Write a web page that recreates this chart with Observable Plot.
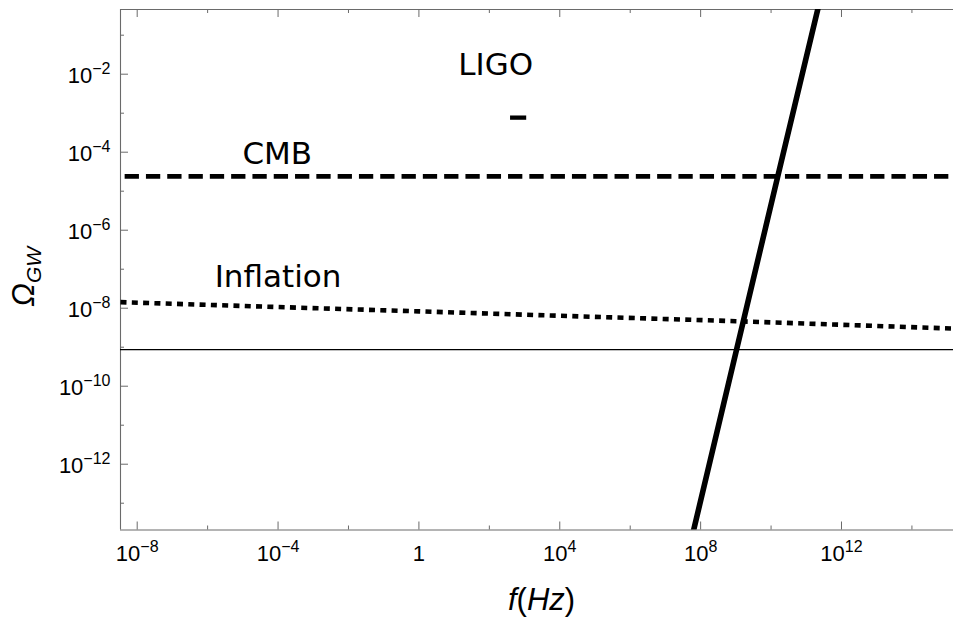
<!DOCTYPE html>
<html><head><meta charset="utf-8">
<script src="https://cdn.jsdelivr.net/npm/d3@7"></script>
<script src="https://cdn.jsdelivr.net/npm/@observablehq/plot@0.6"></script>
<style>body{margin:0;background:#fff}</style>
</head><body><div id="chart"></div>
<script>
// ---- data ----
const xMajorTicks = [1e-8, 1e-4, 1, 1e4, 1e8, 1e12];
const xTickLabels = ["10^−8", "10^−4", "1", "10^4", "10^8", "10^12"];
const xMinorTicks = [1e-6, 1e-2, 1e2, 1e6, 1e10, 1e14];
const yMajorTicks = [1e-2, 1e-4, 1e-6, 1e-8, 1e-10, 1e-12];
const yTickLabels = ["10^−2", "10^−4", "10^−6", "10^−8", "10^−10", "10^−12"];
const yMinorTicks = [1e-1, 1e-3, 1e-5, 1e-7, 1e-9, 1e-11, 1e-13];

const xDomain = [3.357e-9, 2.73e15];
const yDomain = [2.056e-14, 0.456];

const inflationF = [3.36e-9, 1e-4, 1, 1e4, 1e9, 2.7e15];
const inflationOmega = [1.43e-8, 1.07e-8, 8.3e-9, 6.4e-9, 4.65e-9, 2.95e-9];

const steepF = [5.5e7, 1.55e10, 2.5e11];
const steepOmega = [1.2e-14, 2.4e-5, 0.86];

const cmbF = [4.4e-9, 2.7e15];
const cmbOmega = [2.4e-5, 2.4e-5];

const thinOmega = [8.7e-10];

const ligoF = [400, 1150];
const ligoOmega = [7.7e-4];

const labelText = ["LIGO", "CMB", "Inflation"];
const labelF = [151, 9.5e-5, 1e-4];
const labelOmega = [0.0098, 4.84e-5, 3.45e-8];

// ---- build ----
const W = 953 - 120 + 9, H = 529.5 - 9;
const pts = (xs, ys) => xs.map((x, i) => ({x, y: ys[i]}));
const labels = labelText.map((t, i) => ({t, x: labelF[i], y: labelOmega[i]}));
const axisColor = "#6a6a6a";
const tickFont = "Liberation Sans, Arial, sans-serif";

const plot = Plot.plot({
  width: 953, height: 617,
  marginLeft: 120, marginRight: -9, marginTop: 9, marginBottom: 87.5,
  style: {background: "#fff", fontFamily: tickFont, color: "#000", overflow: "visible"},
  x: {type: "log", domain: xDomain, axis: null},
  y: {type: "log", domain: yDomain, axis: null},
  marks: [
    // frame (left, bottom, top)
    Plot.ruleX([xDomain[0]], {stroke: axisColor, strokeWidth: 1.1}),
    Plot.ruleY([yDomain[0]], {stroke: axisColor, strokeWidth: 1.1}),
    Plot.ruleY([yDomain[1]], {stroke: axisColor, strokeWidth: 1.1}),
    // inward ticks
    Plot.tickX(xMajorTicks, {x: d => d, insetTop: H - 8, stroke: axisColor}),
    Plot.tickX(xMajorTicks, {x: d => d, insetBottom: H - 8, stroke: axisColor}),
    Plot.tickX(xMinorTicks, {x: d => d, insetTop: H - 4, stroke: axisColor}),
    Plot.tickX(xMinorTicks, {x: d => d, insetBottom: H - 4, stroke: axisColor}),
    Plot.tickY(yMajorTicks, {y: d => d, insetRight: W - 8, stroke: axisColor}),
    Plot.tickY(yMinorTicks, {y: d => d, insetRight: W - 4, stroke: axisColor}),
    // tick labels
    Plot.text(xMajorTicks, {x: d => d, text: (d, i) => xTickLabels[i], frameAnchor: "bottom", dy: 31.2,
      lineAnchor: "bottom", textAnchor: "middle", fontSize: 22, fontFamily: tickFont, fill: "#000"}),
    Plot.text(yMajorTicks, {y: d => d, text: (d, i) => yTickLabels[i], frameAnchor: "left", dx: -10, dy: 8.5,
      lineAnchor: "bottom", textAnchor: "end", fontSize: 22, fontFamily: tickFont, fill: "#000"}),
    // axis titles
    Plot.text(["f(Hz)"], {text: d => d, frameAnchor: "bottom", dy: 79.5, lineAnchor: "bottom",
      textAnchor: "middle", fontSize: 31, fontStyle: "italic", fontFamily: tickFont, fill: "#000"}),
    Plot.text(["Ω_GW"], {text: d => d, frameAnchor: "left", dx: -87, dy: 7, rotate: -90, lineAnchor: "bottom",
      textAnchor: "middle", fontSize: 31, fontStyle: "italic", fontFamily: tickFont, fill: "#000"}),
    // data
    Plot.ruleY(thinOmega, {stroke: "#000", strokeWidth: 1.2}),
    Plot.line(pts(cmbF, cmbOmega), {x: "x", y: "y", stroke: "#000", strokeWidth: 4.6, strokeDasharray: "14.3,7",
      strokeLinecap: "butt", clip: true}),
    Plot.line(pts(inflationF, inflationOmega), {x: "x", y: "y", stroke: "#000", strokeWidth: 4.6, strokeDasharray: "6,5.3",
      strokeLinecap: "butt", clip: true}),
    Plot.line(pts(steepF, steepOmega), {x: "x", y: "y", stroke: "#000", strokeWidth: 5.6, strokeLinecap: "butt", clip: true}),
    Plot.ruleY(ligoOmega, {x1: ligoF[0], x2: ligoF[1], stroke: "#000", strokeWidth: 4.3}),
    // annotations
    Plot.text(labels, {x: "x", y: "y", text: "t", lineAnchor: "bottom", textAnchor: "middle",
      fontSize: 31, fontFamily: "DejaVu Sans", fill: "#000"})
  ]
});

// superscripts / subscripts as real tspans
const NS = "http://www.w3.org/2000/svg";
plot.querySelectorAll("text").forEach(t => {
  const s = t.textContent;
  if (s === "f(Hz)") {
    t.textContent = "";
    [["f", "italic"], ["(", "normal"], ["Hz", "italic"], [")", "normal"]].forEach(([str, st]) => {
      const sp = document.createElementNS(NS, "tspan");
      sp.textContent = str;
      sp.setAttribute("font-style", st);
      t.appendChild(sp);
    });
    return;
  }
  const i = s.search(/[\^_]/);
  if (i < 0) return;
  const kind = s[i];
  const base = s.slice(0, i), rest = s.slice(i + 1);
  t.textContent = "";
  const a = document.createElementNS(NS, "tspan");
  a.textContent = base;
  t.appendChild(a);
  const b = document.createElementNS(NS, "tspan");
  b.textContent = rest;
  if (kind === "^") { b.setAttribute("dy", "-9"); b.setAttribute("font-size", "16"); }
  else { b.setAttribute("dy", "7"); b.setAttribute("font-size", "21"); }
  t.appendChild(b);
});

document.getElementById("chart").appendChild(plot);
</script>
</body></html>
